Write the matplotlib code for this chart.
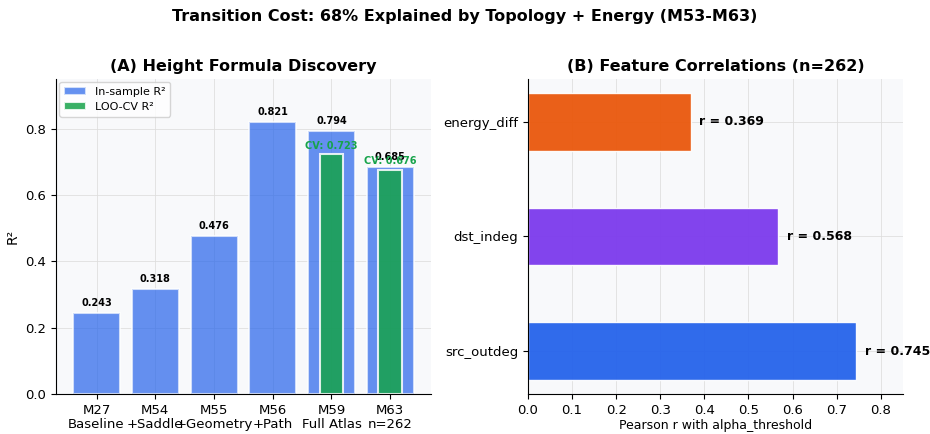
import matplotlib
matplotlib.use("Agg")
import matplotlib.pyplot as plt
import numpy as np

# panel A data
models = ["M27\nBaseline", "M54\n+Saddle", "M55\n+Geometry", "M56\n+Path", "M59\nFull Atlas", "M63\nn=262"]
r2_in = [0.243, 0.318, 0.476, 0.821, 0.794, 0.685]
r2_cv = [None, None, None, None, 0.723, 0.676]

# panel B data
features = ["src_outdeg", "dst_indeg", "energy_diff"]
corr_r = [0.745, 0.568, 0.369]
feat_colors = ["#2563EB", "#7C3AED", "#EA580C"]

fig = plt.figure(figsize=(9.3, 4.34), dpi=100)
fig.suptitle("Transition Cost: 68% Explained by Topology + Energy (M53-M63)",
             fontsize=11.5, fontweight="bold", y=0.98)

ax1 = fig.add_axes([0.0602, 0.0922, 0.403, 0.726])
ax2 = fig.add_axes([0.5677, 0.0922, 0.403, 0.726])

for ax in (ax1, ax2):
    ax.set_facecolor("#F8F9FB")
    ax.spines["top"].set_visible(False)
    ax.spines["right"].set_visible(False)
    ax.grid(True, color="#DDDDDD", linewidth=0.7, alpha=0.8)
    ax.set_axisbelow(True)
    ax.tick_params(labelsize=9.5)

# (A)
x = np.arange(len(models))
ax1.bar(x, r2_in, width=0.8, color="#2563EB", alpha=0.7, edgecolor="white",
        linewidth=1.5, label="In-sample R²")
cv_x = [i for i, v in enumerate(r2_cv) if v is not None]
cv_v = [v for v in r2_cv if v is not None]
ax1.bar(cv_x, cv_v, width=0.4, color="#16A34A", alpha=0.85, edgecolor="white",
        linewidth=1.5, label="LOO-CV R²")
for i, v in enumerate(r2_in):
    ax1.text(i, v + 0.015, f"{v:.3f}", ha="center", va="bottom",
             fontsize=7, fontweight="bold")
for i, v in zip(cv_x, cv_v):
    ax1.text(i, v + 0.01, f"CV: {v:.3f}", ha="center", va="bottom",
             fontsize=7, fontweight="bold", color="#16A34A")
ax1.set_xticks(x)
ax1.set_xticklabels(models, linespacing=1.1)
ax1.set_ylim(0, 0.95)
ax1.set_ylabel("R²", fontsize=10)
ax1.set_title("(A) Height Formula Discovery", fontsize=11.5, fontweight="bold")
ax1.legend(loc="upper left", fontsize=8, borderaxespad=0.3)

# (B)
y = np.arange(len(features))
ax2.barh(y, corr_r, height=0.5, color=feat_colors, alpha=0.95,
         edgecolor="white", linewidth=1)
for i, v in enumerate(corr_r):
    ax2.text(v + 0.02, i, f"r = {v:.3f}", va="center", fontsize=9, fontweight="bold")
ax2.set_yticks(y)
ax2.set_yticklabels(features)
ax2.set_xlim(0, 0.85)
ax2.set_xlabel("Pearson r with alpha_threshold", fontsize=9, labelpad=2)
ax2.set_title("(B) Feature Correlations (n=262)", fontsize=11.5, fontweight="bold")

fig.savefig("out.png", dpi=100)
